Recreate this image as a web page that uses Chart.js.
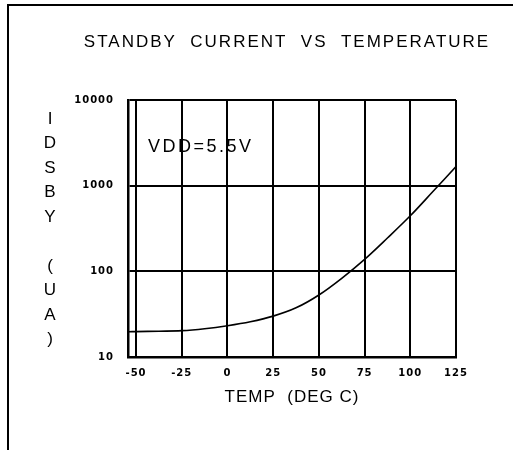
<!DOCTYPE html>
<html>
<head>
<meta charset="utf-8">
<title>Standby current vs temperature</title>
<script src="https://cdn.jsdelivr.net/npm/chart.js@4.4.1/dist/chart.umd.min.js"></script>
<style>
  html, body { margin: 0; padding: 0; background: #fff; }
  #wrap { position: relative; width: 522px; height: 450px; }
</style>
</head>
<body>
<div id="wrap"><canvas id="chart"></canvas></div>
<script>
// values
const temps = [-54, -50, -37.5, -25, -12.5, 0, 12.5, 25, 37.5, 50, 62.5, 75, 87.5, 100, 112.5, 125];
const idsby = [19.7, 19.8, 20.0, 20.3, 21.4, 23.2, 25.8, 30, 37.5, 53, 83, 138, 245, 445, 860, 1670];
const xTicks = [-50, -25, 0, 25, 50, 75, 100, 125];
const yTicks = [10, 100, 1000, 10000];
const yLabel = ['I', 'D', 'S', 'B', 'Y', '', '(', 'U', 'A', ')'];

const INK = '#000';
const tickFont = { family: 'DejaVu Sans', size: 10, weight: 'bold' };

// plotter-style text: spaced letters, frame, stacked y label, annotation
const plotterText = {
    id: 'plotterText',
    beforeDraw(chart) {
        chart.ctx.letterSpacing = '1px';
    },
    afterDraw(chart) {
        const ctx = chart.ctx;
        ctx.save();
        ctx.fillStyle = INK;
        ctx.strokeStyle = INK;

        // page frame (left + top edge of the scan)
        ctx.lineWidth = 2;
        ctx.beginPath();
        ctx.moveTo(8, 450);
        ctx.lineTo(8, 5);
        ctx.lineTo(513, 5);
        ctx.stroke();

        ctx.font = '17px "Liberation Sans"';
        ctx.textBaseline = 'middle';

        // title
        ctx.letterSpacing = '2px';
        ctx.textAlign = 'center';
        ctx.fillText('STANDBY  CURRENT  VS  TEMPERATURE', 287, 42);

        // stacked y axis label
        ctx.letterSpacing = '0px';
        yLabel.forEach((ch, i) => {
            if (ch) ctx.fillText(ch, 50, 119 + i * 24.5);
        });

        // annotation inside plot
        ctx.letterSpacing = '2.5px';
        ctx.textAlign = 'left';
        ctx.font = '18px "Liberation Sans"';
        ctx.fillText('VDD=5.5V', 148, 147);
        ctx.restore();
    }
};

new Chart(document.getElementById('chart'), {
    type: 'line',
    data: {
        datasets: [{
            data: temps.map((t, i) => ({ x: t, y: idsby[i] })),
            borderColor: INK,
            borderWidth: 1.6,
            pointRadius: 0,
            tension: 0.35,
            fill: false,
        }],
    },
    options: {
        responsive: true,
        maintainAspectRatio: false,
        animation: false,
        layout: { padding: { left: 0, right: 66, top: 100, bottom: 0 } },
        plugins: {
            legend: { display: false },
            tooltip: { enabled: false },
            title: { display: false },
        },
        scales: {
            x: {
                type: 'linear',
                min: -54.4,
                max: 125,
                afterBuildTicks: (scale) => { scale.ticks = xTicks.map(v => ({ value: v })); },
                afterFit: (scale) => { scale.height = 93; },
                grid: { color: INK, lineWidth: 2, drawTicks: false },
                border: { color: INK, width: 2.5 },
                ticks: { color: INK, font: tickFont, padding: 10, maxRotation: 0 },
                title: {
                    display: true,
                    text: 'TEMP  (DEG C)',
                    color: INK,
                    font: { family: 'Liberation Sans', size: 17 },
                    padding: { top: 0, bottom: 42 },
                },
            },
            y: {
                type: 'logarithmic',
                min: 10,
                max: 10000,
                afterBuildTicks: (scale) => { scale.ticks = yTicks.map(v => ({ value: v })); },
                afterFit: (scale) => { scale.width = 128; },
                grid: { color: INK, lineWidth: 2, drawTicks: false },
                border: { color: INK, width: 2.5 },
                ticks: { color: INK, font: tickFont, padding: 14, callback: (v) => String(v) },
            },
        },
    },
    plugins: [plotterText],
});
</script>
</body>
</html>
